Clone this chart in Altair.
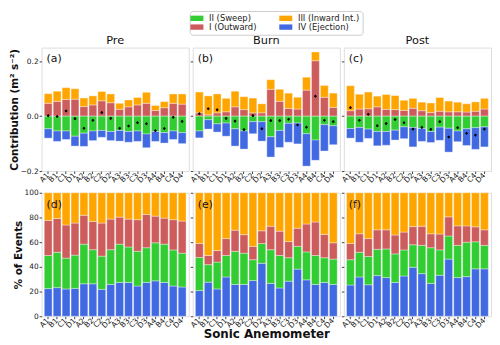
import altair as alt
import pandas as pd

sensors = ["A1", "B1", "C1", "D1", "A2", "B2", "C2", "D2",
           "A3", "B3", "C3", "D3", "A4", "B4", "C4", "D4"]
periods = ["Pre", "Burn", "Post"]
panel_top = ["(a)", "(b)", "(c)"]
panel_bot = ["(d)", "(e)", "(f)"]
quadrants = ["II (Sweep)", "I (Outward)", "III (Inward Int.)", "IV (Ejection)"]
q_colors = ["#32CD32", "#CD5C5C", "#FFA500", "#4169E1"]

# ---- flux contributions (m2 s-2) per quadrant ----
contrib_I = {
    "Pre":  [0.047, 0.054, 0.061, 0.062, 0.035, 0.041, 0.056, 0.049, 0.025, 0.034, 0.041, 0.047, 0.021, 0.031, 0.047, 0.044],
    "Burn": [0.012, 0.005, 0.012, 0.016, 0.034, 0.024, 0.012, 0.012, 0.098, 0.054, 0.028, 0.026, 0.095, 0.202, 0.069, 0.032],
    "Post": [0.020, 0.026, 0.027, 0.034, 0.025, 0.024, 0.021, 0.029, 0.020, 0.013, 0.018, 0.016, 0.016, 0.015, 0.018, 0.026],
}
contrib_III = {
    "Pre":  [0.035, 0.037, 0.043, 0.038, 0.031, 0.033, 0.034, 0.032, 0.022, 0.025, 0.027, 0.040, 0.018, 0.022, 0.034, 0.037],
    "Burn": [0.076, 0.069, 0.069, 0.049, 0.057, 0.047, 0.054, 0.033, 0.035, 0.044, 0.056, 0.043, 0.047, 0.032, 0.043, 0.052],
    "Post": [0.091, 0.054, 0.061, 0.039, 0.054, 0.051, 0.037, 0.036, 0.031, 0.035, 0.050, 0.039, 0.035, 0.030, 0.034, 0.039],
}
contrib_II = {
    "Pre":  [-0.046, -0.054, -0.054, -0.073, -0.062, -0.054, -0.052, -0.056, -0.052, -0.056, -0.054, -0.065, -0.056, -0.060, -0.054, -0.060],
    "Burn": [-0.054, -0.013, -0.028, -0.025, -0.046, -0.054, -0.020, -0.020, -0.075, -0.052, -0.026, -0.025, -0.064, -0.087, -0.031, -0.035],
    "Post": [-0.045, -0.041, -0.047, -0.056, -0.056, -0.051, -0.039, -0.041, -0.045, -0.056, -0.040, -0.044, -0.054, -0.046, -0.042, -0.039],
}
contrib_IV = {
    "Pre":  [-0.034, -0.038, -0.031, -0.036, -0.048, -0.035, -0.025, -0.033, -0.039, -0.039, -0.038, -0.050, -0.036, -0.038, -0.031, -0.040],
    "Burn": [-0.025, -0.034, -0.030, -0.048, -0.063, -0.066, -0.044, -0.071, -0.074, -0.062, -0.069, -0.076, -0.118, -0.074, -0.096, -0.069],
    "Post": [-0.035, -0.054, -0.034, -0.052, -0.050, -0.036, -0.043, -0.071, -0.047, -0.040, -0.048, -0.087, -0.039, -0.061, -0.079, -0.073],
}
net_err = {
    "Pre":  [0.004] * 16,
    "Burn": [0.004] * 16,
    "Post": [0.004] * 16,
}

# ---- % of events per quadrant ----
pct_IV = {
    "Pre":  [22.4, 23.2, 22.1, 22.6, 26.3, 26.3, 21.8, 25.8, 27.4, 27.4, 24.5, 27.4, 28.7, 27.4, 24.5, 23.7],
    "Burn": [20.8, 27.6, 22.1, 31.8, 25.8, 25.8, 28.9, 42.9, 26.6, 22.9, 28.4, 38.2, 29.5, 25.8, 27.4, 25.8],
    "Post": [25.3, 31.8, 25.5, 32.9, 31.3, 27.4, 32.6, 39.7, 34.5, 26.6, 33.2, 46.3, 31.3, 32.1, 38.4, 38.4],
}
pct_II = {
    "Pre":  [26.8, 28.6, 25.0, 26.9, 32.1, 27.6, 26.9, 28.1, 31.0, 28.7, 28.1, 28.1, 30.8, 31.0, 29.2, 27.4],
    "Burn": [26.8, 14.2, 21.8, 17.4, 26.8, 25.3, 16.9, 16.0, 27.3, 26.3, 19.0, 18.4, 22.6, 23.4, 20.0, 20.5],
    "Post": [20.5, 20.0, 22.9, 21.3, 23.2, 23.1, 21.1, 18.2, 22.9, 28.9, 20.5, 18.7, 26.1, 27.9, 21.9, 19.0],
}
pct_I = {
    "Pre":  [28.4, 27.4, 26.8, 26.0, 23.4, 22.9, 26.8, 24.8, 21.9, 22.6, 25.6, 26.9, 21.6, 21.1, 24.5, 26.0],
    "Burn": [11.3, 7.4, 9.3, 13.7, 17.1, 15.0, 10.8, 10.3, 19.0, 19.7, 13.1, 14.7, 22.6, 27.1, 18.9, 13.2],
    "Post": [13.1, 15.0, 14.5, 15.8, 15.5, 15.3, 14.5, 14.7, 15.5, 11.3, 12.9, 15.5, 15.8, 13.2, 12.1, 12.6],
}
pct_III = {
    "Pre":  [22.4, 20.8, 26.1, 24.5, 18.2, 23.2, 24.5, 21.3, 19.7, 21.3, 21.8, 17.6, 18.9, 20.5, 21.8, 22.9],
    "Burn": [41.1, 50.8, 46.8, 37.1, 30.3, 33.9, 43.4, 30.8, 27.1, 31.1, 39.5, 28.7, 25.3, 23.7, 33.7, 40.5],
    "Post": [41.1, 33.2, 37.1, 30.0, 30.0, 34.2, 31.8, 27.4, 27.1, 33.2, 33.4, 19.5, 26.8, 26.8, 27.6, 30.0],
}

FONT = "DejaVu Sans"

rows_c, rows_p, rows_n = [], [], []
for p in periods:
    for i, s in enumerate(sensors):
        for q, vals, o in [("I (Outward)", contrib_I, 0), ("III (Inward Int.)", contrib_III, 1),
                           ("II (Sweep)", contrib_II, 0), ("IV (Ejection)", contrib_IV, 1)]:
            rows_c.append({"period": p, "sensor": s, "quadrant": q, "value": vals[p][i], "ord": o})
        net = contrib_I[p][i] + contrib_III[p][i] + contrib_II[p][i] + contrib_IV[p][i]
        rows_n.append({"period": p, "sensor": s, "net": net,
                       "lo": net - net_err[p][i], "hi": net + net_err[p][i]})
        for q, vals, o in [("IV (Ejection)", pct_IV, 0), ("II (Sweep)", pct_II, 1),
                           ("I (Outward)", pct_I, 2), ("III (Inward Int.)", pct_III, 3)]:
            rows_p.append({"period": p, "sensor": s, "quadrant": q, "value": vals[p][i], "ord": o})

dfc = pd.DataFrame(rows_c)
dfp = pd.DataFrame(rows_p)
dfn = pd.DataFrame(rows_n)

color_scale = alt.Scale(domain=quadrants, range=q_colors)
legend = alt.Legend(
    orient="none", legendX=150, legendY=-37, columns=2, title=None,
    symbolType="M-1.7,-0.7L1.7,-0.7L1.7,0.7L-1.7,0.7Z", symbolSize=60,
    symbolStrokeWidth=0, labelFont=FONT, labelFontSize=8.5, labelColor="#222222",
    labelOffset=8, columnPadding=22, rowPadding=0, padding=3,
    strokeColor="#cccccc", fillColor="white", cornerRadius=3,
)
xscale = alt.Scale(paddingInner=0.12, paddingOuter=0.3)

W, HT, HB = 149, 125, 125


def x_axis(title=None):
    kw = dict(labelAngle=-45, labelFont=FONT, labelFontSize=7.5, labelPadding=0.5, tickSize=2.5,
              domain=False, labelAlign="right", labelBaseline="middle", tickColor="#444444",
              labelColor="#222222")
    if title:
        return alt.Axis(title=title, titleFont=FONT, titleFontSize=12, titleFontWeight="bold",
                        titlePadding=0, titleColor="#111111", **kw)
    return alt.Axis(title=None, **kw)


def y_axis(values, fmt, first, title):
    kw = dict(values=values, format=fmt, domain=False, tickSize=2.5, grid=False, tickColor="#444444",
              labelFont=FONT, labelFontSize=7.5, labelPadding=1, labelColor="#222222")
    if first:
        return alt.Axis(title=title, titleFont=FONT, titleFontSize=10.5, titleFontWeight="bold",
                        titlePadding=1, titleColor="#111111", **kw)
    return alt.Axis(title=None, labels=False, **kw)


def tag(t):
    return alt.Chart(pd.DataFrame({"t": [t]})).mark_text(
        font=FONT, fontSize=11, align="left", baseline="top", color="#111111"
    ).encode(text="t:N", x=alt.value(5), y=alt.value(6))


panels = []
for k, p in enumerate(periods):
    bars = alt.Chart(dfc[dfc.period == p]).mark_bar(
        stroke="white", strokeOpacity=0.6, strokeWidth=0.6
    ).encode(
        x=alt.X("sensor:N", sort=sensors, scale=xscale, axis=x_axis()),
        y=alt.Y("value:Q", stack="zero",
                scale=alt.Scale(domain=[-0.2, 0.25], nice=False, zero=False),
                axis=y_axis([-0.2, -0.1, 0.0, 0.1, 0.2], ".1f", k == 0, "Contribution (m² s⁻²)")),
        color=alt.Color("quadrant:N", scale=color_scale, legend=legend),
        order=alt.Order("ord:Q"),
    )
    npts = alt.Chart(dfn[dfn.period == p])
    err = npts.mark_rule(color="black", strokeWidth=1).encode(
        x=alt.X("sensor:N", sort=sensors, scale=xscale), y="lo:Q", y2="hi:Q")
    dots = npts.mark_point(filled=True, color="black", size=10, opacity=1, shape="diamond").encode(
        x=alt.X("sensor:N", sort=sensors, scale=xscale), y="net:Q")
    panels.append(alt.layer(bars, err, dots, tag(panel_top[k])).properties(
        width=W, height=HT,
        title=alt.TitleParams(p, font=FONT, fontSize=11.5, fontWeight="normal", color="#111111", offset=1)))

for k, p in enumerate(periods):
    bars = alt.Chart(dfp[dfp.period == p]).mark_bar(
        stroke="white", strokeOpacity=0.6, strokeWidth=0.6
    ).encode(
        x=alt.X("sensor:N", sort=sensors, scale=xscale,
                axis=x_axis("Sonic Anemometer" if k == 1 else None)),
        y=alt.Y("value:Q", stack="zero", scale=alt.Scale(domain=[0, 100], nice=False),
                axis=y_axis([0, 20, 40, 60, 80, 100], "d", k == 0, "% of Events")),
        color=alt.Color("quadrant:N", scale=color_scale, legend=legend),
        order=alt.Order("ord:Q"),
    )
    panels.append(alt.layer(bars, tag(panel_bot[k])).properties(width=W, height=HB))

chart = alt.concat(*panels, columns=3, spacing={"row": 22, "column": 4}, bounds="flush").configure_view(
    stroke="#b5b5b5", strokeWidth=1
).configure(padding={"left": 0, "top": 0, "right": 0, "bottom": 0})

chart.save("out.html", embed_options={"renderer": "svg", "actions": False})
